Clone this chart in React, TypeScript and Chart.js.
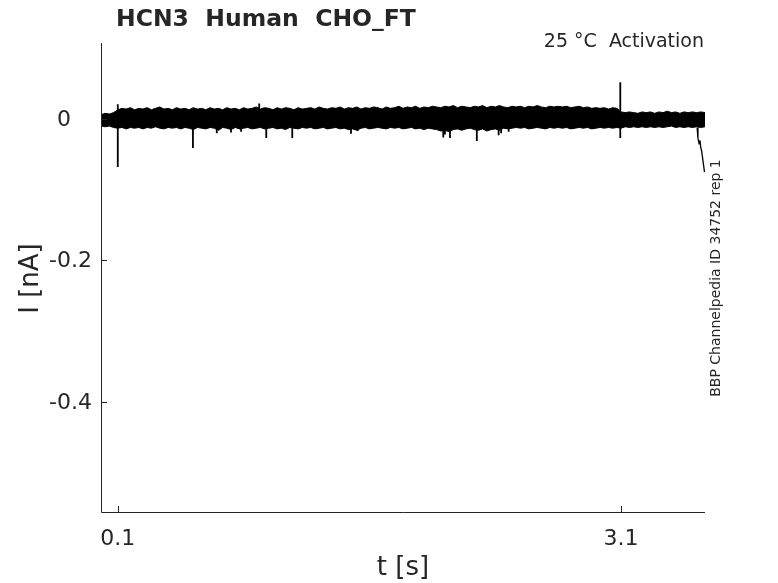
import React, { useEffect, useRef } from "react";
import { Chart, registerables } from "chart.js";

Chart.register(...registerables);

// Noise envelope of the recorded current (time in s, current in nA), sampled every 25 ms
const envTime = [
  0.0, 0.025, 0.05, 0.075, 0.1, 0.125, 0.15, 0.175, 0.2, 0.225,
  0.25, 0.275, 0.3, 0.325, 0.35, 0.375, 0.4, 0.425, 0.45, 0.475,
  0.5, 0.525, 0.55, 0.575, 0.6, 0.625, 0.65, 0.675, 0.7, 0.725,
  0.75, 0.775, 0.8, 0.825, 0.85, 0.875, 0.9, 0.925, 0.95, 0.975,
  1.0, 1.025, 1.05, 1.075, 1.1, 1.125, 1.15, 1.175, 1.2, 1.225,
  1.25, 1.275, 1.3, 1.325, 1.35, 1.375, 1.4, 1.425, 1.45, 1.475,
  1.5, 1.525, 1.55, 1.575, 1.6, 1.625, 1.65, 1.675, 1.7, 1.725,
  1.75, 1.775, 1.8, 1.825, 1.85, 1.875, 1.9, 1.925, 1.95, 1.975,
  2.0, 2.025, 2.05, 2.075, 2.1, 2.125, 2.15, 2.175, 2.2, 2.225,
  2.25, 2.275, 2.3, 2.325, 2.35, 2.375, 2.4, 2.425, 2.45, 2.475,
  2.5, 2.525, 2.55, 2.575, 2.6, 2.625, 2.65, 2.675, 2.7, 2.725,
  2.75, 2.775, 2.8, 2.825, 2.85, 2.875, 2.9, 2.925, 2.95, 2.975,
  3.0, 3.025, 3.05, 3.075, 3.1, 3.125, 3.15, 3.175, 3.2, 3.225,
  3.25, 3.275, 3.3, 3.325, 3.35, 3.375, 3.4, 3.425, 3.45, 3.475,
  3.5, 3.525, 3.55, 3.575, 3.6,
];
const envUpper = [
  0.006, 0.008, 0.007, 0.009, 0.013, 0.015, 0.014, 0.016, 0.013, 0.015,
  0.014, 0.016, 0.013, 0.015, 0.017, 0.014, 0.015, 0.013, 0.016, 0.014,
  0.015, 0.013, 0.016, 0.014, 0.015, 0.013, 0.016, 0.014, 0.015, 0.013,
  0.016, 0.014, 0.015, 0.013, 0.016, 0.014, 0.015, 0.017, 0.014, 0.016,
  0.015, 0.013, 0.016, 0.014, 0.016, 0.015, 0.013, 0.016, 0.014, 0.015,
  0.016, 0.014, 0.017, 0.015, 0.014, 0.016, 0.015, 0.017, 0.014, 0.016,
  0.015, 0.017, 0.014, 0.016, 0.015, 0.017, 0.016, 0.014, 0.017, 0.015,
  0.016, 0.018, 0.015, 0.017, 0.016, 0.018, 0.015, 0.017, 0.016, 0.018,
  0.017, 0.016, 0.018, 0.017, 0.019, 0.016, 0.018, 0.017, 0.016, 0.018,
  0.017, 0.019, 0.016, 0.018, 0.017, 0.019, 0.017, 0.016, 0.018, 0.017,
  0.018, 0.016, 0.018, 0.017, 0.019, 0.017, 0.016, 0.018, 0.017, 0.018,
  0.017, 0.018, 0.016, 0.017, 0.018, 0.016, 0.017, 0.015, 0.016, 0.015,
  0.016, 0.014, 0.016, 0.015, 0.01, 0.009, 0.01, 0.009, 0.008, 0.01,
  0.009, 0.01, 0.008, 0.01, 0.009, 0.011, 0.009, 0.01, 0.008, 0.01,
  0.009, 0.01, 0.009, 0.01, 0.009,
];
const envLower = [
  -0.01, -0.011, -0.01, -0.012, -0.013, -0.012, -0.014, -0.012, -0.013, -0.012,
  -0.014, -0.012, -0.013, -0.011, -0.013, -0.014, -0.012, -0.013, -0.012, -0.014,
  -0.012, -0.013, -0.015, -0.012, -0.013, -0.014, -0.012, -0.013, -0.016, -0.012,
  -0.013, -0.015, -0.012, -0.014, -0.013, -0.012, -0.014, -0.013, -0.012, -0.014,
  -0.013, -0.012, -0.014, -0.013, -0.015, -0.012, -0.013, -0.014, -0.012, -0.013,
  -0.012, -0.014, -0.013, -0.012, -0.014, -0.013, -0.012, -0.014, -0.013, -0.015,
  -0.014, -0.016, -0.013, -0.012, -0.014, -0.013, -0.012, -0.013, -0.014, -0.012,
  -0.013, -0.012, -0.014, -0.013, -0.012, -0.014, -0.013, -0.015, -0.013, -0.014,
  -0.015, -0.017, -0.016, -0.018, -0.015, -0.014, -0.016, -0.014, -0.013, -0.015,
  -0.016, -0.014, -0.017, -0.015, -0.014, -0.016, -0.013, -0.014, -0.013, -0.012,
  -0.013, -0.012, -0.014, -0.013, -0.012, -0.013, -0.014, -0.012, -0.013, -0.012,
  -0.013, -0.012, -0.014, -0.013, -0.012, -0.013, -0.012, -0.014, -0.013, -0.012,
  -0.013, -0.012, -0.013, -0.012, -0.013, -0.011, -0.012, -0.011, -0.012, -0.011,
  -0.012, -0.011, -0.012, -0.011, -0.012, -0.011, -0.01, -0.012, -0.011, -0.012,
  -0.011, -0.012, -0.011, -0.012, -0.011,
];

// Brief transients sticking out of the noise band (time in s, peak in nA)
const spikeTime = [
  0.1, 0.1, 0.548, 0.69, 0.775, 0.835, 0.943, 0.985, 1.14, 1.49,
  1.53, 2.04, 2.05, 2.08, 2.24, 2.37, 2.385, 2.43, 3.095, 3.095,
];
const spikePeak = [
  0.021, -0.068, -0.041, -0.02, -0.019, -0.018, 0.022, -0.027, -0.027, -0.021,
  -0.017, -0.026, -0.022, -0.027, -0.031, -0.023, -0.02, -0.018, 0.052, -0.027,
];

// Final run-down at the end of the sweep
const tailTime = [3.553, 3.558, 3.565, 3.57, 3.575, 3.58, 3.597];
const tailValue = [-0.012, -0.027, -0.035, -0.03, -0.041, -0.045, -0.075];

const xTicks = [0.1, 3.1];
const xTickLabels = ["0.1", "3.1"];
const yTicks = [0, -0.2, -0.4];
const yTickLabels = ["0   ", "-0.2", "-0.4"];

const titleText = "HCN3  Human  CHO_FT";
const subtitleText = "25 °C  Activation";
const sideText = "BBP Channelpedia ID 34752 rep 1";
const xLabel = "t [s]";
const yLabel = "I [nA]";

const FONT = "'DejaVu Sans', sans-serif";
const INK = "#262626";

const decorPlugin = {
  id: "decor",
  afterDatasetsDraw(chart: any) {
    const ctx = chart.ctx as CanvasRenderingContext2D;
    const xs = chart.scales.x;
    const ys = chart.scales.y;
    const { left, right, top, bottom } = chart.chartArea;
    ctx.save();
    ctx.strokeStyle = INK;
    ctx.lineWidth = 1;
    ctx.beginPath();
    ctx.moveTo(Math.round(left) + 0.5, top);
    ctx.lineTo(Math.round(left) + 0.5, Math.round(bottom) + 0.5);
    ctx.lineTo(right, Math.round(bottom) + 0.5);
    ctx.stroke();
    ctx.beginPath();
    xTicks.forEach((v) => {
      const px = Math.round(xs.getPixelForValue(v)) + 0.5;
      ctx.moveTo(px, bottom);
      ctx.lineTo(px, bottom - 6);
    });
    yTicks.forEach((v) => {
      const py = Math.round(ys.getPixelForValue(v)) + 0.5;
      ctx.moveTo(left, py);
      ctx.lineTo(left + 6, py);
    });
    ctx.stroke();

    ctx.fillStyle = INK;
    ctx.font = `22px ${FONT}`;
    ctx.textBaseline = "middle";
    ctx.textAlign = "right";
    yTicks.forEach((v, i) => {
      ctx.fillText(yTickLabels[i], left - 9, ys.getPixelForValue(v) + 1);
    });
    ctx.textAlign = "center";
    xTicks.forEach((v, i) => {
      ctx.fillText(xTickLabels[i], xs.getPixelForValue(v), bottom + 27);
    });

    ctx.font = `26px ${FONT}`;
    ctx.fillText(xLabel, (left + right) / 2, bottom + 56);
    ctx.save();
    ctx.translate(31, (top + bottom) / 2 + 1);
    ctx.rotate(-Math.PI / 2);
    ctx.fillText(yLabel, 0, 0);
    ctx.restore();

    ctx.textBaseline = "alphabetic";
    ctx.font = `bold 23.5px ${FONT}`;
    ctx.textAlign = "left";
    ctx.fillText(titleText, 116, 26);

    ctx.font = `19px ${FONT}`;
    ctx.textAlign = "right";
    ctx.fillText(subtitleText, 704, 47);

    ctx.textBaseline = "middle";
    ctx.font = `14px ${FONT}`;
    ctx.textAlign = "center";
    ctx.save();
    ctx.translate(716, 278);
    ctx.rotate(-Math.PI / 2);
    ctx.fillText(sideText, 0, 0);
    ctx.restore();

    ctx.restore();
  },
};

export default function App() {
  const ref = useRef<HTMLCanvasElement | null>(null);
  useEffect(() => {
    if (!ref.current) return;
    const upper = envTime.map((t, i) => ({ x: t, y: envUpper[i] }));
    const lower = envTime.map((t, i) => ({ x: t, y: envLower[i] }));
    const spikes: { x: number; y: number | null }[] = [];
    spikeTime.forEach((t, i) => {
      spikes.push({ x: t, y: 0 }, { x: t, y: spikePeak[i] }, { x: t, y: null });
    });
    const tail = tailTime.map((t, i) => ({ x: t, y: tailValue[i] }));
    const chart = new Chart(ref.current, {
      type: "line",
      data: {
        datasets: [
          { data: upper, borderColor: "#000", borderWidth: 1, pointRadius: 0, fill: false, tension: 0 },
          {
            data: lower,
            borderColor: "#000",
            borderWidth: 1,
            pointRadius: 0,
            backgroundColor: "#000",
            fill: "-1",
            tension: 0,
          },
          {
            data: spikes as any,
            borderColor: "#000",
            borderWidth: 1.8,
            pointRadius: 0,
            fill: false,
            spanGaps: false,
            tension: 0,
          },
          { data: tail, borderColor: "#000", borderWidth: 1.3, pointRadius: 0, fill: false, tension: 0 },
        ],
      },
      options: {
        responsive: false,
        animation: false,
        layout: { padding: { left: 101, right: 73, top: 43, bottom: 71 } },
        plugins: { legend: { display: false }, tooltip: { enabled: false }, title: { display: false } },
        scales: {
          x: { type: "linear", min: 0, max: 3.6, display: false },
          y: { type: "linear", min: -0.5555, max: 0.1074, display: false },
        },
      },
      plugins: [decorPlugin],
    });
    return () => chart.destroy();
  }, []);
  return (
    <canvas
      ref={ref}
      width={778}
      height={583}
      style={{ position: "absolute", left: 0, top: 0, width: 778, height: 583, background: "#fff" }}
    />
  );
}
